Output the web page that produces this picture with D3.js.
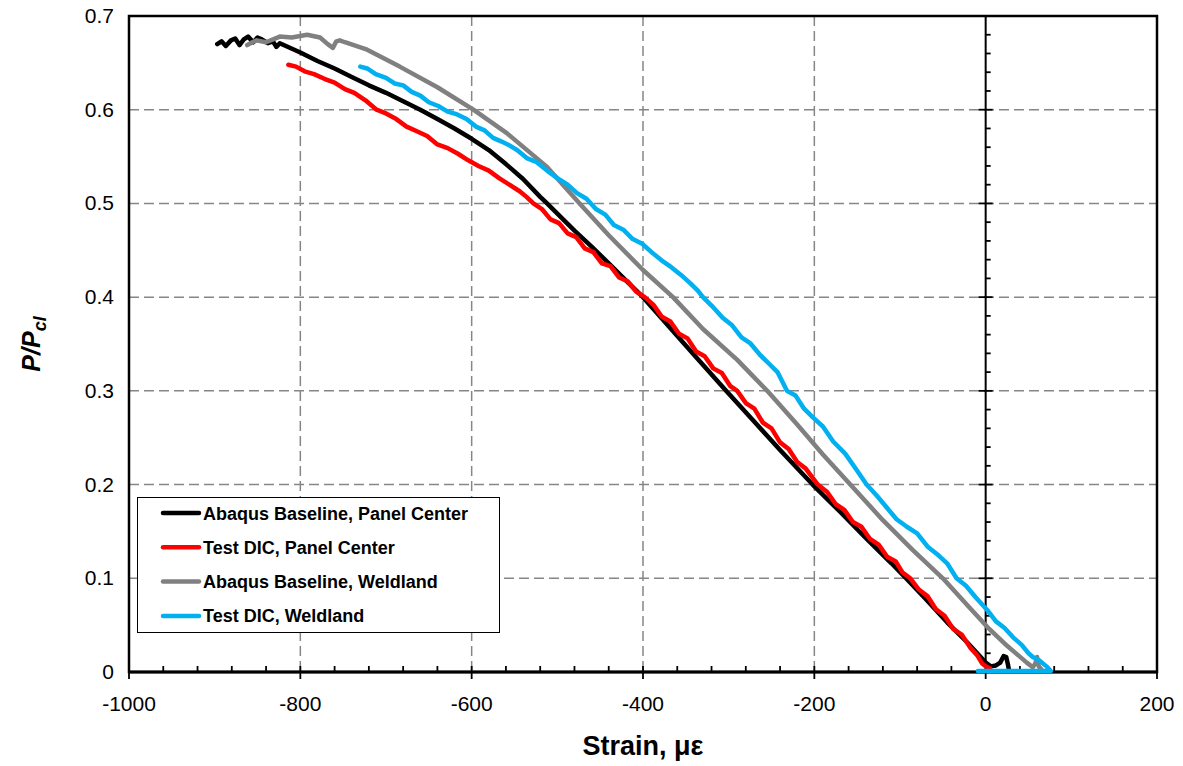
<!DOCTYPE html>
<html>
<head>
<meta charset="utf-8">
<script src="https://cdn.jsdelivr.net/npm/d3@7"></script>
<style>
  body { margin: 0; background: #fff; }
  text { font-family: "Liberation Sans", Arial, sans-serif; }
</style>
</head>
<body>
<div id="chart"></div>
<script>
// data (strain in microstrain, load ratio P/Pcl)
var seriesNames = ["Abaqus Baseline, Panel Center", "Test DIC, Panel Center", "Abaqus Baseline, Weldland", "Test DIC, Weldland"];
var seriesColors = ["#000000", "#ff0000", "#808080", "#00b0f0"];

var abaqusCenterX = [-897,-892,-887,-881,-876,-871,-866,-861,-855,-850,-845,-838,-832,-828,-824,-800,-780,-760,-740,-720,-700,-680,-660,-640,-620,-600,-580,-560,-540,-520,-512,-480,-460,-440,-420,-400,-370,-340,-303,-270,-240,-202,-170,-140,-110,-93,-70,-45,-22,-8,0,6,12,17,21,24,26,27];
var abaqusCenterY = [0.670,0.673,0.668,0.674,0.676,0.669,0.675,0.678,0.672,0.677,0.675,0.671,0.673,0.667,0.671,0.661,0.652,0.644,0.635,0.626,0.618,0.609,0.600,0.590,0.580,0.569,0.557,0.542,0.526,0.507,0.500,0.471,0.454,0.436,0.418,0.400,0.369,0.338,0.300,0.267,0.237,0.200,0.171,0.143,0.116,0.100,0.078,0.053,0.032,0.018,0.010,0.006,0.007,0.010,0.017,0.016,0.008,0.003];

var testCenterX = [-814,-805,-795,-784,-772,-760,-748,-737,-724,-711,-700,-688,-676,-664,-652,-640,-628,-616,-604,-592,-580,-568,-556,-544,-536,-528,-518,-508,-498,-488,-478,-468,-458,-448,-438,-428,-418,-408,-398,-388,-378,-368,-358,-348,-338,-328,-318,-308,-298,-290,-280,-270,-260,-250,-240,-230,-220,-210,-196,-185,-175,-165,-155,-145,-135,-125,-115,-105,-97,-88,-78,-68,-58,-48,-38,-28,-18,-10,-4,0,5];
var testCenterY = [0.648,0.646,0.641,0.638,0.633,0.629,0.622,0.618,0.610,0.600,0.596,0.590,0.582,0.577,0.572,0.563,0.559,0.553,0.546,0.540,0.535,0.527,0.520,0.513,0.507,0.500,0.494,0.483,0.479,0.468,0.464,0.452,0.448,0.436,0.433,0.421,0.417,0.406,0.400,0.392,0.379,0.374,0.361,0.356,0.342,0.337,0.324,0.319,0.305,0.300,0.287,0.281,0.266,0.260,0.245,0.238,0.224,0.217,0.200,0.192,0.179,0.173,0.160,0.155,0.142,0.136,0.123,0.118,0.106,0.100,0.088,0.081,0.067,0.060,0.046,0.040,0.026,0.018,0.009,0.006,0.004];

var abaqusWeldX = [-862,-856,-851,-840,-824,-810,-792,-777,-768,-762,-758,-754,-748,-722,-684,-640,-598,-559,-512,-474,-440,-400,-365,-330,-290,-255,-220,-190,-158,-120,-85,-50,-20,2,25,48,55,58,60,62,65];
var abaqusWeldY = [0.669,0.672,0.674,0.672,0.678,0.677,0.680,0.677,0.670,0.666,0.673,0.674,0.672,0.664,0.646,0.624,0.600,0.575,0.539,0.500,0.466,0.429,0.400,0.366,0.333,0.300,0.264,0.232,0.200,0.162,0.130,0.100,0.070,0.048,0.028,0.010,0.005,0.009,0.016,0.006,0.003];

var testWeldX = [-730,-722,-712,-700,-690,-680,-670,-660,-650,-639,-628,-617,-606,-595,-585,-575,-565,-556,-547,-535,-524,-512,-500,-488,-477,-466,-455,-444,-434,-423,-412,-401,-390,-378,-367,-356,-345,-336,-330,-320,-307,-296,-285,-275,-264,-254,-243,-232,-222,-212,-202,-190,-178,-164,-151,-139,-127,-116,-104,-92,-80,-68,-57,-45,-34,-23,-12,2,12,22,32,42,50,55,63,71,76,-9];
var testWeldY = [0.646,0.644,0.638,0.634,0.628,0.626,0.619,0.615,0.608,0.604,0.598,0.595,0.590,0.582,0.578,0.570,0.566,0.562,0.557,0.548,0.544,0.535,0.527,0.520,0.511,0.505,0.494,0.488,0.477,0.472,0.462,0.457,0.448,0.439,0.432,0.424,0.415,0.407,0.400,0.391,0.378,0.370,0.357,0.351,0.339,0.330,0.320,0.300,0.295,0.281,0.272,0.262,0.246,0.233,0.216,0.200,0.188,0.176,0.163,0.155,0.148,0.134,0.126,0.116,0.100,0.092,0.080,0.066,0.054,0.047,0.037,0.029,0.020,0.016,0.012,0.006,0.001,0.001];

var xTicks = [-1000, -800, -600, -400, -200, 0, 200];
var yTicks = [0, 0.1, 0.2, 0.3, 0.4, 0.5, 0.6, 0.7];

var allX = [abaqusCenterX, testCenterX, abaqusWeldX, testWeldX];
var allY = [abaqusCenterY, testCenterY, abaqusWeldY, testWeldY];

// SVG 설정
var W = 1183, H = 766;
var margin = { top: 16, right: 26, bottom: 94, left: 129 };
var svg = d3.select("#chart").append("svg")
  .attr("width", W)
  .attr("height", H);

var xScale = d3.scaleLinear().domain([-1000, 200]).range([margin.left, W - margin.right]);
var yScale = d3.scaleLinear().domain([0, 0.7]).range([H - margin.bottom, margin.top]);

// dashed grid
var gridColor = "#868686";
svg.append("g").selectAll("line")
  .data(xTicks.filter(function(d) { return d > -1000 && d < 0; }))
  .enter().append("line")
  .attr("x1", function(d) { return xScale(d); })
  .attr("x2", function(d) { return xScale(d); })
  .attr("y1", yScale(0.7)).attr("y2", yScale(0))
  .attr("stroke", gridColor).attr("stroke-width", 1.5).attr("stroke-dasharray", "10,5");
svg.append("g").selectAll("line")
  .data(yTicks.filter(function(d) { return d > 0 && d < 0.7; }))
  .enter().append("line")
  .attr("x1", xScale(-1000)).attr("x2", xScale(200))
  .attr("y1", function(d) { return yScale(d); })
  .attr("y2", function(d) { return yScale(d); })
  .attr("stroke", gridColor).attr("stroke-width", 1.5).attr("stroke-dasharray", "10,5");

// plot border
svg.append("rect")
  .attr("x", xScale(-1000)).attr("y", yScale(0.7))
  .attr("width", xScale(200) - xScale(-1000))
  .attr("height", yScale(0) - yScale(0.7))
  .attr("fill", "none").attr("stroke", "#000").attr("stroke-width", 2.5);

// vertical axis crossing at strain 0
var x0 = xScale(0);
svg.append("line")
  .attr("x1", x0).attr("x2", x0)
  .attr("y1", yScale(0.7)).attr("y2", yScale(0))
  .attr("stroke", "#000").attr("stroke-width", 2);
var yMinor = d3.range(0, 36).map(function(i) { return i * 0.02; });
svg.append("g").selectAll("line")
  .data(yMinor)
  .enter().append("line")
  .attr("x1", function(d, i) { return i % 5 === 0 ? x0 - 7 : x0; })
  .attr("x2", function(d, i) { return i % 5 === 0 ? x0 + 7 : x0 + 5; })
  .attr("y1", function(d) { return yScale(d); })
  .attr("y2", function(d) { return yScale(d); })
  .attr("stroke", "#000").attr("stroke-width", 1.8);

// x axis ticks
var y0 = yScale(0);
var xMinor = d3.range(0, 31).map(function(i) { return -1000 + i * 40; });
svg.append("g").selectAll("line")
  .data(xMinor)
  .enter().append("line")
  .attr("x1", function(d) { return xScale(d); })
  .attr("x2", function(d) { return xScale(d); })
  .attr("y1", function(d, i) { return i % 5 === 0 ? y0 + 7 : y0; })
  .attr("y2", y0 - 6)
  .attr("stroke", "#000").attr("stroke-width", 1.8);
svg.append("line")
  .attr("x1", xScale(-1000)).attr("x2", xScale(200))
  .attr("y1", y0).attr("y2", y0)
  .attr("stroke", "#000").attr("stroke-width", 3);

// tick labels
svg.append("g").selectAll("text")
  .data(xTicks)
  .enter().append("text")
  .attr("x", function(d) { return xScale(d); })
  .attr("y", 711)
  .attr("text-anchor", "middle")
  .style("font-size", "21px")
  .text(function(d) { return d; });
svg.append("g").selectAll("text")
  .data(yTicks)
  .enter().append("text")
  .attr("x", 114)
  .attr("y", function(d) { return yScale(d) + 7; })
  .attr("text-anchor", "end")
  .style("font-size", "21px")
  .text(function(d) { return d === 0 ? "0" : d.toFixed(1); });

// axis titles
svg.append("text")
  .attr("x", (xScale(-1000) + xScale(200)) / 2)
  .attr("y", 755)
  .attr("text-anchor", "middle")
  .style("font-family", "'Liberation Sans Narrow', Arial, sans-serif")
  .style("font-weight", "bold")
  .style("font-size", "27px")
  .text("Strain, με");
var yTitle = svg.append("text")
  .attr("transform", "translate(40," + yScale(0.35) + ") rotate(-90)")
  .attr("text-anchor", "middle")
  .style("font-weight", "bold")
  .style("font-style", "italic")
  .style("font-size", "25px");
yTitle.append("tspan").text("P/P");
yTitle.append("tspan").attr("dy", 6).style("font-size", "18px").text("cl");

// curves
var line = d3.line()
  .x(function(d) { return xScale(d[0]); })
  .y(function(d) { return yScale(d[1]); });
allX.forEach(function(xs, k) {
  var pts = xs.map(function(v, i) { return [v, allY[k][i]]; });
  svg.append("path")
    .datum(pts)
    .attr("d", line)
    .attr("fill", "none")
    .attr("stroke", seriesColors[k])
    .attr("stroke-width", 4.5)
    .attr("stroke-linejoin", "round")
    .attr("stroke-linecap", "round");
});

// legend
var lg = svg.append("g");
lg.append("rect")
  .attr("x", 137.5).attr("y", 497.5)
  .attr("width", 362).attr("height", 135)
  .attr("fill", "#fff").attr("stroke", "#000").attr("stroke-width", 1);
seriesNames.forEach(function(name, i) {
  var ry = 513 + i * 34.3;
  lg.append("line")
    .attr("x1", 163).attr("x2", 199)
    .attr("y1", ry).attr("y2", ry)
    .attr("stroke", seriesColors[i]).attr("stroke-width", 4.5)
    .attr("stroke-linecap", "round");
  lg.append("text")
    .attr("x", 203).attr("y", ry + 6.5)
    .style("font-family", "'Liberation Sans Narrow', Arial, sans-serif")
    .style("font-weight", "bold")
    .style("font-size", "18px")
    .text(name);
});
</script>
</body>
</html>
